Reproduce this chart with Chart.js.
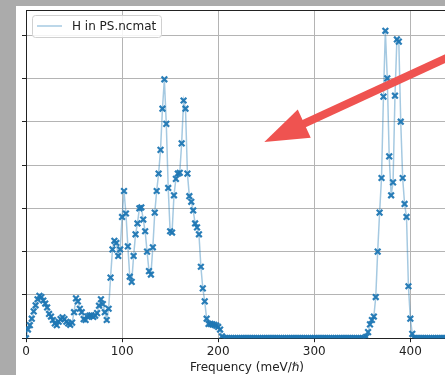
<!DOCTYPE html>
<html>
<head>
<meta charset="utf-8">
<script src="https://cdn.jsdelivr.net/npm/chart.js@4.4.1/dist/chart.umd.min.js"></script>
<style>
  html, body { margin: 0; padding: 0; background: #fff; }
  body { width: 445px; height: 375px; overflow: hidden; position: relative; }
  #frameLeft { position: absolute; left: 0; top: 0; width: 16px; height: 375px; background: #ababab; }
  #frameTop { position: absolute; left: 0; top: 0; width: 445px; height: 6px; background: #ababab; }
  #vdos { position: absolute; left: 0; top: 0; }
</style>
</head>
<body>
<div id="frameLeft"></div>
<div id="frameTop"></div>
<canvas id="vdos" width="480" height="375"></canvas>
<script>
// frequency grid (meV/hbar)
const freq = [
  0, 2, 4, 6, 8, 10, 12, 14, 16, 18, 20, 22, 24, 26, 28, 30, 32, 34, 36, 38,
  40, 42, 44, 46, 48, 50, 52, 54, 56, 58, 60, 62, 64, 66, 68, 70, 72, 74, 76, 78,
  80, 82, 84, 86, 88, 90, 92, 94, 96, 98, 100, 102, 104, 106, 108, 110, 112, 114, 116, 118,
  120, 122, 124, 126, 128, 130, 132, 134, 136, 138, 140, 142, 144, 146, 148, 150, 152, 154, 156, 158,
  160, 162, 164, 166, 168, 170, 172, 174, 176, 178, 180, 182, 184, 186, 188, 190, 192, 194, 196, 198,
  200, 202, 204, 206, 208, 210, 212, 214, 216, 218, 220, 222, 224, 226, 228, 230, 232, 234, 236, 238,
  240, 242, 244, 246, 248, 250, 252, 254, 256, 258, 260, 262, 264, 266, 268, 270, 272, 274, 276, 278,
  280, 282, 284, 286, 288, 290, 292, 294, 296, 298, 300, 302, 304, 306, 308, 310, 312, 314, 316, 318,
  320, 322, 324, 326, 328, 330, 332, 334, 336, 338, 340, 342, 344, 346, 348, 350, 352, 354, 356, 358,
  360, 362, 364, 366, 368, 370, 372, 374, 376, 378, 380, 382, 384, 386, 388, 390, 392, 394, 396, 398,
  400, 402, 404, 406, 408, 410, 412, 414, 416, 418, 420, 422, 424, 426, 428, 430, 432, 434, 436, 438,
  440
];

// hydrogen VDOS in polystyrene
const dosH = [
  0.00, 0.20, 0.30, 0.45, 0.62, 0.76, 0.90, 0.98, 0.95, 0.87, 0.80, 0.71, 0.56, 0.50, 0.42, 0.34, 0.30, 0.38, 0.44, 0.48,
  0.44, 0.38, 0.34, 0.31, 0.36, 0.60, 0.92, 0.85, 0.68, 0.60, 0.44, 0.42, 0.50, 0.52, 0.53, 0.49, 0.52, 0.58, 0.75, 0.90,
  0.79, 0.60, 0.42, 0.68, 1.40, 2.05, 2.25, 2.20, 1.90, 2.05, 2.80, 3.40, 2.88, 2.12, 1.42, 1.30, 1.90, 2.40, 2.65, 3.00,
  3.02, 2.74, 2.47, 2.00, 1.55, 1.47, 2.10, 2.90, 3.40, 3.80, 4.35, 5.30, 5.98, 4.95, 3.47, 2.47, 2.44, 3.30, 3.68, 3.80,
  3.82, 4.50, 5.49, 5.30, 3.80, 3.28, 3.15, 2.95, 2.65, 2.56, 2.40, 1.65, 1.15, 0.85, 0.45, 0.33, 0.33, 0.32, 0.31, 0.29,
  0.26, 0.20, 0.04, 0, 0, 0, 0, 0, 0, 0, 0, 0, 0, 0, 0, 0, 0, 0, 0, 0,
  0, 0, 0, 0, 0, 0, 0, 0, 0, 0, 0, 0, 0, 0, 0, 0, 0, 0, 0, 0,
  0, 0, 0, 0, 0, 0, 0, 0, 0, 0, 0, 0, 0, 0, 0, 0, 0, 0, 0, 0,
  0, 0, 0, 0, 0, 0, 0, 0, 0, 0, 0, 0, 0, 0, 0, 0, 0, 0.03, 0.14, 0.32,
  0.42, 0.50, 0.95, 2.00, 2.90, 3.70, 5.58, 7.10, 6.00, 4.20, 3.30, 3.60, 5.60, 6.90, 6.85, 5.00, 3.70, 3.10, 2.80, 1.20,
  0.45, 0.10, 0, 0, 0, 0, 0, 0, 0, 0, 0, 0, 0, 0, 0, 0, 0, 0, 0, 0,
  0
];

const xTicks = [0, 100, 200, 300, 400];
const seriesLabel = 'H in PS.ncmat';
const xTitle = 'Frequency (meV/\u210F)';

// annotation arrow, in data coordinates (tail -> tip)
const arrowTail = [460, 6.7];
const arrowTip = [248, 4.53];

const FONT = 'DejaVu Sans';
const LINE_BLUE = 'rgba(31,119,180,0.4)';
const MARK_BLUE = 'rgba(31,119,180,0.95)';

// top spine, legend box and red arrow
const extras = {
  id: 'extras',
  afterDraw(chart) {
    const ctx = chart.ctx;
    const a = chart.chartArea;
    const xs = chart.scales.x, ys = chart.scales.y;

    ctx.save();
    ctx.strokeStyle = '#222';
    ctx.lineWidth = 1;
    ctx.beginPath();
    ctx.moveTo(a.left, a.top + 0.5);
    ctx.lineTo(a.right, a.top + 0.5);
    ctx.stroke();

    // legend
    const bx = a.left + 6, by = a.top + 5, bw = 129, bh = 22, r = 3;
    ctx.fillStyle = 'rgba(255,255,255,0.85)';
    ctx.strokeStyle = '#d0d0d0';
    ctx.beginPath();
    ctx.roundRect(bx + 0.5, by + 0.5, bw, bh, r);
    ctx.fill();
    ctx.stroke();
    ctx.strokeStyle = LINE_BLUE;
    ctx.lineWidth = 1.5;
    ctx.beginPath();
    ctx.moveTo(bx + 5, by + 11);
    ctx.lineTo(bx + 30, by + 11);
    ctx.stroke();
    ctx.fillStyle = '#222';
    ctx.font = '12px "' + FONT + '"';
    ctx.textBaseline = 'middle';
    ctx.fillText(seriesLabel, bx + 40, by + 11.5);

    // arrow
    const tx = xs.getPixelForValue(arrowTail[0]), ty = ys.getPixelForValue(arrowTail[1]);
    const hx = xs.getPixelForValue(arrowTip[0]), hy = ys.getPixelForValue(arrowTip[1]);
    const ang = Math.atan2(hy - ty, hx - tx);
    const headLen = 44, headW = 31;
    const baseX = hx - headLen * Math.cos(ang), baseY = hy - headLen * Math.sin(ang);
    ctx.strokeStyle = '#ef5350';
    ctx.fillStyle = '#ef5350';
    ctx.lineWidth = 8;
    ctx.beginPath();
    ctx.moveTo(tx, ty);
    ctx.lineTo(baseX + 2 * Math.cos(ang), baseY + 2 * Math.sin(ang));
    ctx.stroke();
    const nx = -Math.sin(ang), ny = Math.cos(ang);
    ctx.beginPath();
    ctx.moveTo(hx, hy);
    ctx.lineTo(baseX + nx * headW / 2, baseY + ny * headW / 2);
    ctx.lineTo(baseX - nx * headW / 2, baseY - ny * headW / 2);
    ctx.closePath();
    ctx.fill();
    ctx.restore();
  }
};

new Chart(document.getElementById('vdos'), {
  type: 'line',
  data: {
    datasets: [{
      label: seriesLabel,
      data: freq.map((f, i) => ({ x: f, y: dosH[i] })),
      borderColor: LINE_BLUE,
      borderWidth: 1.5,
      pointStyle: 'crossRot',
      pointRadius: 4,
      pointHoverRadius: 4,
      pointBorderColor: MARK_BLUE,
      pointBackgroundColor: MARK_BLUE,
      pointBorderWidth: 2.2,
      tension: 0,
      clip: 0
    }]
  },
  options: {
    responsive: false,
    animation: false,
    devicePixelRatio: 1,
    events: [],
    layout: { padding: { left: 22, top: 10, right: 12, bottom: 0 } },
    plugins: { legend: { display: false }, tooltip: { enabled: false } },
    scales: {
      x: {
        type: 'linear',
        min: 0,
        max: 460,
        afterBuildTicks: (s) => { s.ticks = xTicks.map(v => ({ value: v })); },
        ticks: { font: { family: FONT, size: 12 }, color: '#222', padding: 2, maxRotation: 0 },
        grid: { color: '#b4b4b4', tickColor: '#222', tickLength: 4 },
        border: { color: '#222', width: 1 },
        title: { display: true, text: xTitle, color: '#222', font: { family: FONT, size: 12 }, padding: 0 }
      },
      y: {
        min: 0,
        max: 7.58,
        ticks: { display: false, stepSize: 1, includeBounds: false },
        grid: { color: '#b4b4b4', tickColor: '#222', tickLength: 4 },
        border: { color: '#222', width: 1 }
      }
    }
  },
  plugins: [extras]
});
</script>
</body>
</html>
